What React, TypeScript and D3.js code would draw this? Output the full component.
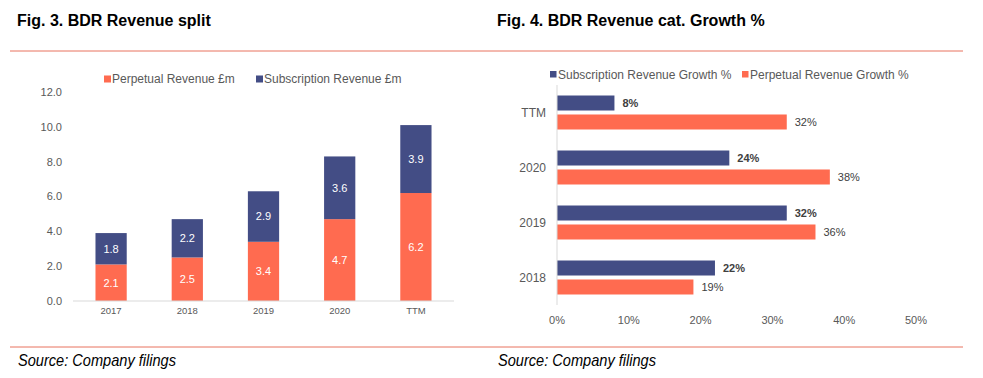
import React from "react";
import * as d3 from "d3";

const years = ["2017", "2018", "2019", "2020", "TTM"];
const perpetual = [2.1, 2.5, 3.4, 4.7, 6.2];
const subscription = [1.8, 2.2, 2.9, 3.6, 3.9];
const yTicks = [0, 2, 4, 6, 8, 10, 12];

const growthCats = ["TTM", "2020", "2019", "2018"];
const subGrowth = [0.08, 0.24, 0.32, 0.22];
const perpGrowth = [0.32, 0.38, 0.36, 0.19];
const xTicksPct = [0, 0.1, 0.2, 0.3, 0.4, 0.5];

const ORANGE = "#FF6B50";
const NAVY = "#434D85";
const RED_LINE = "#E8735F";
const GRAY = "#595959";
const AXIS = "#D9D9D9";
const FONT = "Arial, 'Liberation Sans', sans-serif";

export default function App() {
  // Left chart scales
  const x = d3.scaleBand<string>().domain(years).range([73, 454]).paddingInner(0.59).paddingOuter(0.295);
  const y = d3.scaleLinear().domain([0, 12]).range([301, 92]);
  const fmt1 = d3.format(".1f");

  // Right chart scales
  const gy = d3.scaleBand<string>().domain(growthCats).range([85, 305]);
  const inner = d3.scaleBand<string>().domain(["sub", "perp"]).range([0, gy.bandwidth()]).paddingInner(0.21).paddingOuter(0.553);
  const gx = d3.scaleLinear().domain([0, 0.5]).range([557, 916]);
  const pct = d3.format(".0%");

  return (
    <svg width={983} height={378} style={{ position: "absolute", left: 0, top: 0 }} fontFamily={FONT}>
      <rect width={983} height={378} fill="#fff" />
      {/* Titles */}
      <text x={17} y={26} fontSize={16} fontWeight="bold" fill="#000">Fig. 3. BDR Revenue split</text>
      <text x={497} y={26} fontSize={16} fontWeight="bold" fill="#000">Fig. 4. BDR Revenue cat. Growth %</text>
      <line x1={10} x2={963} y1={51} y2={51} stroke={RED_LINE} strokeWidth={1} />
      <line x1={10} x2={963} y1={347} y2={347} stroke={RED_LINE} strokeWidth={1} />
      <text x={18} y={366} fontSize={17} fontStyle="italic" fill="#000" textLength={158} lengthAdjust="spacingAndGlyphs">Source: Company filings</text>
      <text x={498} y={366} fontSize={17} fontStyle="italic" fill="#000" textLength={158} lengthAdjust="spacingAndGlyphs">Source: Company filings</text>

      {/* Left legend */}
      <rect x={104} y={75.5} width={7} height={7} fill={ORANGE} />
      <text x={112} y={79} dy="0.35em" fontSize={12} fill={GRAY}>Perpetual Revenue £m</text>
      <rect x={256} y={75.5} width={7} height={7} fill={NAVY} />
      <text x={264} y={79} dy="0.35em" fontSize={12} fill={GRAY}>Subscription Revenue £m</text>

      {/* Left y ticks */}
      {yTicks.map((t) => (
        <text key={t} x={62} y={y(t)} dy="0.35em" textAnchor="end" fontSize={11} fill={GRAY}>{fmt1(t)}</text>
      ))}
      {/* Left bars */}
      {years.map((yr, i) => {
        const x0 = x(yr)!;
        const bw = x.bandwidth();
        const p = perpetual[i];
        const s = subscription[i];
        return (
          <g key={yr}>
            <rect x={x0} y={y(p)} width={bw} height={y(0) - y(p)} fill={ORANGE} />
            <rect x={x0} y={y(p + s)} width={bw} height={y(p) - y(p + s)} fill={NAVY} />
            <text x={x0 + bw / 2} y={(y(0) + y(p)) / 2} dy="0.35em" textAnchor="middle" fontSize={11} fill="#fff">{fmt1(p)}</text>
            <text x={x0 + bw / 2} y={(y(p) + y(p + s)) / 2} dy="0.35em" textAnchor="middle" fontSize={11} fill="#fff">{fmt1(s)}</text>
            <text x={x0 + bw / 2} y={311} dy="0.35em" textAnchor="middle" fontSize={9.5} fill={GRAY}>{yr}</text>
          </g>
        );
      })}
      <line x1={73} x2={454} y1={301} y2={301} stroke={AXIS} strokeWidth={1} />

      {/* Right legend */}
      <rect x={550} y={71} width={6.5} height={6.5} fill={NAVY} />
      <text x={558} y={74.5} dy="0.35em" fontSize={12} fill={GRAY}>Subscription Revenue Growth %</text>
      <rect x={742} y={71} width={6.5} height={6.5} fill={ORANGE} />
      <text x={750} y={74.5} dy="0.35em" fontSize={12} fill={GRAY}>Perpetual Revenue Growth %</text>

      {/* Right bars */}
      {growthCats.map((c, i) => {
        const y0 = gy(c)!;
        const bh = inner.bandwidth();
        const ys = y0 + inner("sub")!;
        const yp = y0 + inner("perp")!;
        return (
          <g key={c}>
            <rect x={gx(0)} y={ys} width={gx(subGrowth[i]) - gx(0)} height={bh} fill={NAVY} />
            <rect x={gx(0)} y={yp} width={gx(perpGrowth[i]) - gx(0)} height={bh} fill={ORANGE} />
            <text x={gx(subGrowth[i]) + 8} y={ys + bh / 2} dy="0.35em" fontSize={11} fontWeight="bold" fill="#404040">{pct(subGrowth[i])}</text>
            <text x={gx(perpGrowth[i]) + 8} y={yp + bh / 2} dy="0.35em" fontSize={11} fill="#404040">{pct(perpGrowth[i])}</text>
            <text x={546} y={y0 + gy.bandwidth() / 2} dy="0.35em" textAnchor="end" fontSize={12} fill={GRAY}>{c}</text>
          </g>
        );
      })}
      <line x1={557} x2={557} y1={85} y2={305} stroke={AXIS} strokeWidth={1} />
      {xTicksPct.map((t) => (
        <text key={t} x={gx(t)} y={320} dy="0.35em" textAnchor="middle" fontSize={11} fill={GRAY}>{pct(t)}</text>
      ))}
    </svg>
  );
}
